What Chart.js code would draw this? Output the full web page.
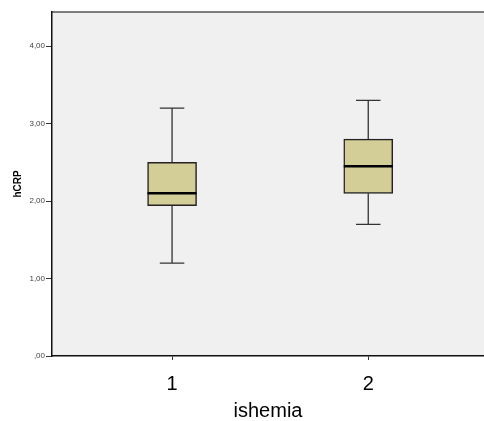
<!DOCTYPE html>
<html>
<head>
<meta charset="utf-8">
<script src="https://cdn.jsdelivr.net/npm/chart.js@4/dist/chart.umd.min.js"></script>
<style>
  body { margin: 0; background: #fff; }
  #wrap { width: 484px; height: 421px; }
</style>
</head>
<body>
<div id="wrap"><canvas id="boxChart"></canvas></div>
<script>
// Box plot data
var groups = [1, 2];
var whiskerLow = [1.20, 1.70];
var q1 = [1.94, 2.10];
var median = [2.10, 2.45];
var q3 = [2.50, 2.80];
var whiskerHigh = [3.20, 3.30];
var yTicks = [0, 1, 2, 3, 4];

// Grey plot background and top frame line
var plotBackground = {
	id: 'plotBackground',
	beforeDraw: function(chart) {
		var a = chart.chartArea, ctx = chart.ctx;
		ctx.save();
		ctx.fillStyle = '#f0f0f0';
		ctx.fillRect(a.left, a.top, a.right - a.left, a.bottom - a.top);
		ctx.strokeStyle = '#555';
		ctx.lineWidth = 1.5;
		ctx.beginPath();
		ctx.moveTo(a.left, a.top);
		ctx.lineTo(a.right, a.top);
		ctx.stroke();
		ctx.restore();
	}
};

// Whiskers and median lines, placed with the chart scales
var boxExtras = {
	id: 'boxExtras',
	afterDatasetsDraw: function(chart) {
		var ctx = chart.ctx;
		var x = chart.scales.x, y = chart.scales.y;
		var bars = chart.getDatasetMeta(0).data;
		ctx.save();
		for (var i = 0; i < groups.length; i++) {
			var cx = x.getPixelForValue(groups[i]);
			var half = bars[i].width / 2;
			var cap = half / 2;
			ctx.strokeStyle = '#333';
			ctx.lineWidth = 1.3;
			ctx.beginPath();
			ctx.moveTo(cx, y.getPixelForValue(whiskerHigh[i]));
			ctx.lineTo(cx, y.getPixelForValue(q3[i]));
			ctx.moveTo(cx, y.getPixelForValue(q1[i]));
			ctx.lineTo(cx, y.getPixelForValue(whiskerLow[i]));
			ctx.moveTo(cx - cap, y.getPixelForValue(whiskerHigh[i]));
			ctx.lineTo(cx + cap, y.getPixelForValue(whiskerHigh[i]));
			ctx.moveTo(cx - cap, y.getPixelForValue(whiskerLow[i]));
			ctx.lineTo(cx + cap, y.getPixelForValue(whiskerLow[i]));
			ctx.stroke();
			ctx.strokeStyle = '#000';
			ctx.lineWidth = 2.5;
			ctx.beginPath();
			ctx.moveTo(cx - half, y.getPixelForValue(median[i]));
			ctx.lineTo(cx + half, y.getPixelForValue(median[i]));
			ctx.stroke();
		}
		ctx.restore();
	}
};

var ctx = document.getElementById('boxChart').getContext('2d');
var boxChart = new Chart(ctx, {
	type: 'bar',
	data: {
		datasets: [{
			data: groups.map(function(g, i) { return { x: g, y: [q1[i], q3[i]] }; }),
			backgroundColor: '#d3ce98',
			borderColor: '#222',
			borderWidth: 1.5,
			borderSkipped: false,
			barThickness: 49
		}]
	},
	options: {
		responsive: true,
		maintainAspectRatio: false,
		animation: false,
		layout: { padding: { top: 12, right: 0, left: 0, bottom: 0 } },
		plugins: {
			legend: { display: false },
			tooltip: { enabled: false }
		},
		scales: {
			x: {
				type: 'linear',
				offset: false,
				min: 0.388,
				max: 2.59,
				afterBuildTicks: function(scale) {
					scale.ticks = groups.map(function(v) { return { value: v }; });
				},
				afterFit: function(scale) { scale.height = 65; },
				grid: { offset: false, drawOnChartArea: false, tickLength: 4, color: '#333' },
				border: { display: true, color: '#111', width: 1.5 },
				ticks: {
					padding: 12,
					color: '#000',
					font: { family: 'Arial, "Liberation Sans"', size: 20 },
					callback: function(v) { return String(v); }
				},
				title: {
					display: true,
					text: 'ishemia',
					color: '#000',
					font: { family: 'Arial, "Liberation Sans"', size: 20, lineHeight: 1 },
					padding: { top: 0, bottom: 0 }
				}
			},
			y: {
				min: 0,
				max: 4.44,
				afterBuildTicks: function(scale) {
					scale.ticks = yTicks.map(function(v) { return { value: v }; });
				},
				afterFit: function(scale) { scale.width = 52; },
				grid: { drawOnChartArea: false, tickLength: 6, color: '#333' },
				border: { display: true, color: '#111', width: 1.5 },
				ticks: {
					padding: 1,
					color: '#444',
					font: { family: 'Arial, "Liberation Sans"', size: 8 },
					callback: function(v) {
						return v === 0 ? ',00' : v.toFixed(2).replace('.', ',');
					}
				},
				title: {
					display: true,
					text: 'hCRP',
					color: '#000',
					font: { family: 'Arial, "Liberation Sans"', size: 10, weight: 'bold', lineHeight: 1.2 },
					padding: { top: 12, bottom: 0 }
				}
			}
		}
	},
	plugins: [plotBackground, boxExtras]
});
</script>
</body>
</html>
